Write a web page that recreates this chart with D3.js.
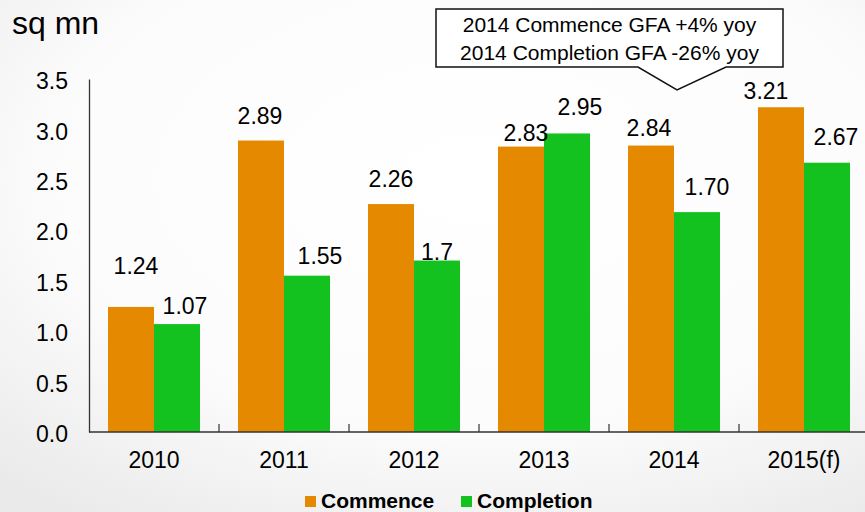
<!DOCTYPE html>
<html>
<head>
<meta charset="utf-8">
<script src="https://cdn.jsdelivr.net/npm/d3@7"></script>
<style>
  html, body { margin: 0; padding: 0; }
  body { width: 865px; height: 512px; overflow: hidden; }
  text { font-family: "Liberation Sans", Arial, sans-serif; fill: #000; }
</style>
</head>
<body>
<svg id="chart" width="865" height="512"></svg>
<script>
// ---- data ----
const categories = ["2010", "2011", "2012", "2013", "2014", "2015(f)"];
const seriesNames = ["Commence", "Completion"];
const commenceValues = [1.24, 2.89, 2.26, 2.83, 2.84, 3.22];
const completionValues = [1.07, 1.55, 1.70, 2.96, 2.18, 2.67];
const commenceLabels = ["1.24", "2.89", "2.26", "2.83", "2.84", "3.21"];
const completionLabels = ["1.07", "1.55", "1.7", "2.95", "1.70", "2.67"];
const yTicks = [0, 0.5, 1.0, 1.5, 2.0, 2.5, 3.0, 3.5];
const unitLabel = "sq mn";
const calloutLines = ["2014 Commence GFA +4% yoy", "2014 Completion GFA -26% yoy"];

// ---- layout / style ----
const colors = { Commence: "#E58A00", Completion: "#13C21F" };
// label offsets relative to bar top (gap in px) and horizontal nudge
const labelGap = { Commence: [33, 17, 17, 6, 10, 8], Completion: [10, 12, 1, 18, 17, 18] };
const labelDx  = { Commence: [5, -1, 0, 5, -2, -15], Completion: [8, 13, 0, 13, 10, 9] };

const svg = d3.select("#chart");

// background gradient
const defs = svg.append("defs");
const rg = defs.append("radialGradient").attr("id", "bg")
  .attr("cx", "55%").attr("cy", "35%").attr("r", "80%");
rg.append("stop").attr("offset", "0%").attr("stop-color", "#ffffff");
rg.append("stop").attr("offset", "60%").attr("stop-color", "#fcfcfc");
rg.append("stop").attr("offset", "100%").attr("stop-color", "#eaeaea");
svg.append("rect").attr("width", 865).attr("height", 512).attr("fill", "url(#bg)");

const x0 = d3.scaleBand().domain(categories).range([89, 869]).paddingInner(0).paddingOuter(0);
const x1 = d3.scaleBand().domain(seriesNames).range([19, x0.bandwidth() - 19]).padding(0);
const y = d3.scaleLinear().domain([0, 3.5]).range([432, 79]);

const rows = categories.map((c, i) => ({
  cat: c,
  vals: [
    { s: "Commence", v: commenceValues[i], lab: commenceLabels[i], i },
    { s: "Completion", v: completionValues[i], lab: completionLabels[i], i }
  ]
}));

// bars
const groups = svg.append("g").selectAll("g").data(rows).join("g")
  .attr("transform", d => `translate(${x0(d.cat)},0)`);
groups.selectAll("rect").data(d => d.vals).join("rect")
  .attr("x", d => x1(d.s))
  .attr("width", x1.bandwidth())
  .attr("y", d => y(d.v))
  .attr("height", d => y(0) - y(d.v))
  .attr("fill", d => colors[d.s]);

// value labels
groups.selectAll("text.val").data(d => d.vals).join("text")
  .attr("class", "val")
  .attr("x", d => x1(d.s) + x1.bandwidth() / 2 + labelDx[d.s][d.i])
  .attr("y", d => y(d.v) - labelGap[d.s][d.i])
  .attr("text-anchor", "middle")
  .style("font-size", "23px")
  .text(d => d.lab);

// y axis
const yAxis = d3.axisLeft(y).tickValues(yTicks).tickFormat(d3.format(".1f")).tickSize(0).tickPadding(21);
const yg = svg.append("g").attr("transform", "translate(89,0)").call(yAxis);
yg.select(".domain").attr("stroke", "#333").attr("stroke-width", 1.3);
yg.selectAll("text").style("font-size", "23px").attr("dy", "0.42em")
  .style("font-family", "'Liberation Sans', Arial, sans-serif");

// x axis
const xg = svg.append("g").attr("transform", "translate(0,432)");
xg.append("line").attr("x1", 89).attr("x2", 865).attr("y1", 0).attr("y2", 0)
  .attr("stroke", "#333").attr("stroke-width", 1.3);
xg.selectAll("line.tick").data(categories.slice(1)).join("line")
  .attr("class", "tick")
  .attr("x1", d => x0(d)).attr("x2", d => x0(d))
  .attr("y1", 0).attr("y2", -8)
  .attr("stroke", "#333").attr("stroke-width", 1.2);
xg.selectAll("text").data(categories).join("text")
  .attr("x", d => x0(d) + x0.bandwidth() / 2)
  .attr("y", 36)
  .attr("text-anchor", "middle")
  .style("font-size", "23px")
  .text(d => d);

// unit label
svg.append("text").attr("x", 12).attr("y", 34).style("font-size", "32px").text(unitLabel);

// legend
const legend = svg.append("g");
const legendItems = [{ s: "Commence", x: 305 }, { s: "Completion", x: 461 }];
legendItems.forEach(it => {
  legend.append("rect").attr("x", it.x).attr("y", 496).attr("width", 11).attr("height", 11)
    .attr("fill", colors[it.s]);
  legend.append("text").attr("x", it.x + 16).attr("y", 508)
    .style("font-size", "21px").style("font-weight", "bold").text(it.s);
});

// callout
const bx0 = 436, bx1 = 783, by0 = 9, by1 = 67;
const p = d3.path();
p.moveTo(bx0, by0); p.lineTo(bx1, by0); p.lineTo(bx1, by1);
p.lineTo(726, by1); p.lineTo(677, 90); p.lineTo(638, by1);
p.lineTo(bx0, by1); p.closePath();
svg.append("path").attr("d", p.toString()).attr("fill", "#fff")
  .attr("stroke", "#111").attr("stroke-width", 1.5);
calloutLines.forEach((t, i) => {
  svg.append("text").attr("x", (bx0 + bx1) / 2).attr("y", 32 + i * 28)
    .attr("text-anchor", "middle").style("font-size", "21px").text(t);
});
</script>
</body>
</html>
